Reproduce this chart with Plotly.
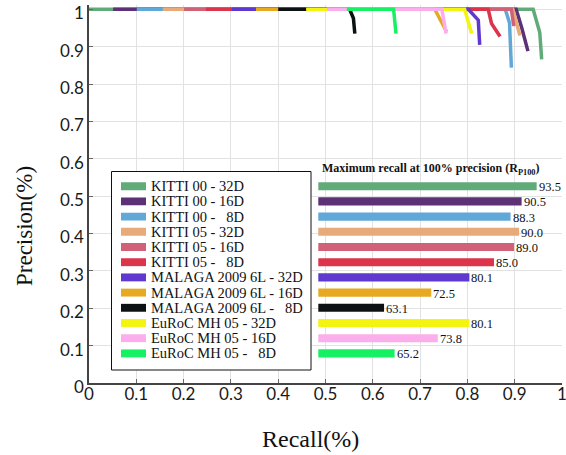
import plotly.graph_objects as go

# ---------------- data ----------------
series_names = [
    "KITTI 00 - 32D", "KITTI 00 - 16D", "KITTI 00 - \u00a0\u00a08D",
    "KITTI 05 - 32D", "KITTI 05 - 16D", "KITTI 05 - \u00a0\u00a08D",
    "MALAGA 2009 6L - 32D", "MALAGA 2009 6L - 16D", "MALAGA 2009 6L - \u00a0\u00a08D",
    "EuRoC MH 05 - 32D", "EuRoC MH 05 - 16D", "EuRoC MH 05 - \u00a0\u00a08D",
]
colors = [
    "#60ab78", "#5c3176", "#5fa8d8",
    "#e9aa79", "#d16176", "#dc344a",
    "#5f39cf", "#e6a921", "#0c1214",
    "#f4f411", "#fbaeeb", "#16f163",
]
# precision-recall curves (recall, precision)
pr_recall = [
    [0.000, 0.939, 0.953, 0.957],
    [0.051, 0.903, 0.915, 0.928],
    [0.101, 0.880, 0.889, 0.893],
    [0.156, 0.896, 0.911],
    [0.201, 0.893, 0.898],
    [0.247, 0.844, 0.851, 0.869],
    [0.302, 0.802, 0.823, 0.826],
    [0.353, 0.731, 0.756],
    [0.400, 0.551, 0.559, 0.562],
    [0.459, 0.794, 0.809],
    [0.503, 0.746, 0.755],
    [0.545, 0.644, 0.649],
]
pr_precision = [
    [1.0, 1.0, 0.938, 0.866],
    [1.0, 1.0, 0.950, 0.888],
    [1.0, 1.0, 0.964, 0.844],
    [1.0, 1.0, 0.930],
    [1.0, 1.0, 0.955],
    [1.0, 1.0, 0.962, 0.927],
    [1.0, 1.0, 0.971, 0.905],
    [1.0, 1.0, 0.940],
    [1.0, 1.0, 0.976, 0.935],
    [1.0, 1.0, 0.935],
    [1.0, 1.0, 0.935],
    [1.0, 1.0, 0.935],
]
# maximum recall at 100% precision
max_recall = [93.5, 90.5, 88.3, 90.0, 89.0, 85.0, 80.1, 72.5, 63.1, 80.1, 73.8, 65.2]
tick_vals = [round(0.1 * i, 1) for i in range(11)]

SERIF = "Liberation Serif, Times New Roman, serif"
SANS = "Lato, Open Sans, sans-serif"

W, H = 566, 455
ML, MR, MT, MB = 89, 4, 5, 72
PW, PH = W - ML - MR, H - MT - MB


def px(xp):
    return (xp - ML) / PW


def py(yp):
    return (H - MB - yp) / PH


fig = go.Figure()

for name, col, rx, pp in zip(series_names, colors, pr_recall, pr_precision):
    fig.add_trace(go.Scatter(
        x=rx, y=pp, mode="lines", name=name,
        line=dict(color=col, width=3.5),
        showlegend=False, hoverinfo="skip",
        xaxis="x", yaxis="y",
    ))

rows = list(range(len(max_recall)))
fig.add_trace(go.Bar(
    x=max_recall, y=rows, orientation="h",
    marker=dict(color=colors, line=dict(width=0)),
    width=0.53, showlegend=False, hoverinfo="skip",
    xaxis="x2", yaxis="y2",
))

annotations = []
shapes = []

# value labels next to bars
for v, r in zip(max_recall, rows):
    annotations.append(dict(
        x=v, y=r, xref="x2", yref="y2", text=f"{v:.1f}", showarrow=False,
        xanchor="left", yanchor="middle", xshift=0, yshift=-1,
        font=dict(family=SERIF, size=12.5, color="#111"),
    ))

# legend box
shapes.append(dict(
    type="rect", xref="paper", yref="paper",
    x0=px(111.5), x1=px(311), y0=py(370), y1=py(171.5),
    line=dict(color="#111", width=1), fillcolor="white", layer="above",
))
for name, col, r in zip(series_names, colors, rows):
    shapes.append(dict(
        type="rect", xref="paper", yref="y2",
        x0=px(121), x1=px(146), y0=r - 0.26, y1=r + 0.26,
        line=dict(width=0), fillcolor=col, layer="above",
    ))
    annotations.append(dict(
        x=px(149), y=r, xref="paper", yref="y2", text=name, showarrow=False,
        xanchor="left", yanchor="middle",
        font=dict(family=SERIF, size=14.5, color="#111"),
    ))

# inset title
annotations.append(dict(
    x=px(320), y=py(169), xref="paper", yref="paper",
    text="<b>Maximum recall at 100% precision (R<sub>P100</sub>)</b>",
    showarrow=False, xanchor="left", yanchor="middle",
    font=dict(family=SERIF, size=12, color="#111"),
))

# axis titles
annotations.append(dict(
    x=px(24), y=py(226), xref="paper", yref="paper", text="Precision(%)",
    textangle=-90, showarrow=False, xanchor="center", yanchor="middle",
    font=dict(family=SERIF, size=23, color="#111"),
))
annotations.append(dict(
    x=px(310), y=py(439), xref="paper", yref="paper", text="Recall(%)",
    showarrow=False, xanchor="center", yanchor="middle",
    font=dict(family=SERIF, size=24, color="#111"),
))

axis_common = dict(
    tickvals=tick_vals, ticktext=[f"{t:g}" for t in tick_vals],
    ticks="inside", ticklen=4, tickcolor="#666", tickwidth=1,
    showline=True, linecolor="#444", linewidth=1.5,
    showgrid=True, gridcolor="#e2e2e2", gridwidth=1, zeroline=False,
    tickfont=dict(family=SANS, size=17, color="#1a1a1a"),
    automargin=False, ticklabeloverflow="allow",
)

# y range extends slightly above 1 so the thick lines at precision 1 are not clipped
y_top = 1 + (9.3 - MT) / (H - MB - 9.3)

fig.update_layout(
    width=W, height=H,
    margin=dict(l=ML, r=MR, t=MT, b=MB, autoexpand=False),
    paper_bgcolor="white", plot_bgcolor="rgba(0,0,0,0)",
    xaxis=dict(**axis_common, range=[0, 1], domain=[0, 1], anchor="y",
               ticklabelstandoff=-5),
    yaxis=dict(**axis_common, range=[0, y_top], domain=[0, 1], anchor="x",
               ticklabelshift=4),
    xaxis2=dict(domain=[px(318.3), 1.0], range=[50, 50 + (W - MR - 318.3) / 5.02],
                anchor="y2", automargin=False,
                showgrid=False, zeroline=False, showticklabels=False, showline=False, ticks=""),
    yaxis2=dict(domain=[py(361), py(178.6)], range=[11.5, -0.5], anchor="x2", automargin=False,
                showgrid=False, zeroline=False, showticklabels=False, showline=False, ticks=""),
    annotations=annotations, shapes=shapes,
)

fig.write_html("out.html", config={"displayModeBar": False},
               post_script="document.body.style.margin='0px';")
